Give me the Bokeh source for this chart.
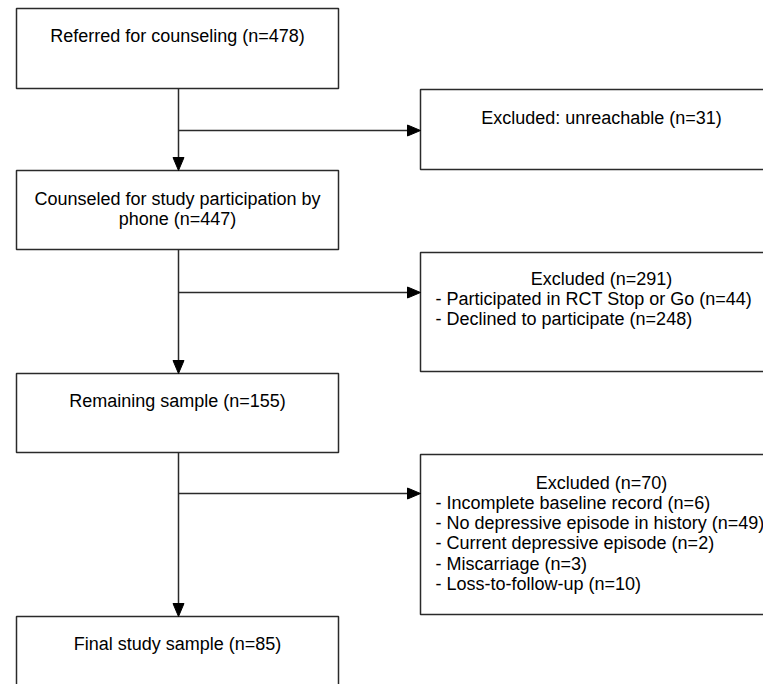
from bokeh.plotting import figure
from bokeh.models import Range1d
from bokeh.core.properties import value
from bokeh.embed import file_html
from bokeh.resources import INLINE

# ---- content ----
main_labels = [
    ["Referred for counseling (n=478)"],
    ["Counseled for study participation by", "phone (n=447)"],
    ["Remaining sample (n=155)"],
    ["Final study sample (n=85)"],
]
excl_titles = [
    "Excluded: unreachable (n=31)",
    "Excluded (n=291)",
    "Excluded (n=70)",
]
excl_items = [
    [],
    ["- Participated in RCT Stop or Go (n=44)",
     "- Declined to participate (n=248)"],
    ["- Incomplete baseline record (n=6)",
     "- No depressive episode in history (n=49)",
     "- Current depressive episode (n=2)",
     "- Miscarriage (n=3)",
     "- Loss-to-follow-up (n=10)"],
]

# ---- layout (pixel coordinates) ----
main_left, main_right = 16, 338
main_top = [8, 170, 373, 616]
main_bot = [88, 249, 452, 720]
main_text_y = [35, 198, 400, 643]
stem_x = 178

ex_left, ex_right = 420, 782
ex_top = [89, 252, 454]
ex_bot = [169, 371, 614]
ex_title_y = [117, 278, 482]
branch_y = [130, 292, 493]
item_x = 435
line_gap = 20.3

FONT = "Liberation Sans"
FS = "18px"
LC = "#2a2a2a"

p = figure(width=763, height=684, x_range=Range1d(0, 763), y_range=Range1d(684, 0),
           output_backend="svg", toolbar_location=None, min_border=0)
p.axis.visible = False
p.grid.visible = False
p.outline_line_color = None
p.background_fill_color = "white"
p.border_fill_color = "white"

# boxes
p.quad(left=[main_left] * 4, right=[main_right] * 4, top=main_top, bottom=main_bot,
       fill_color="white", line_color=LC, line_width=1.5)
p.quad(left=[ex_left] * 3, right=[ex_right] * 3, top=ex_top, bottom=ex_bot,
       fill_color="white", line_color=LC, line_width=1.5)

# vertical stems
ah = 13  # arrow head length
aw = 5.5  # half width
p.segment(x0=[stem_x] * 3, y0=main_bot[:3], x1=[stem_x] * 3,
          y1=[t - ah + 1 for t in main_top[1:]], line_color=LC, line_width=1.5)
# branches
p.segment(x0=[stem_x] * 3, y0=branch_y, x1=[ex_left - ah + 1] * 3, y1=branch_y,
          line_color=LC, line_width=1.5)

# arrowheads
xs, ys = [], []
for t in main_top[1:]:
    xs.append([stem_x - aw, stem_x + aw, stem_x])
    ys.append([t - ah, t - ah, t])
for b in branch_y:
    xs.append([ex_left - ah, ex_left - ah, ex_left])
    ys.append([b - aw, b + aw, b])
p.patches(xs, ys, fill_color="black", line_color="black", line_width=1)

# main texts
tx, ty, tt = [], [], []
for lines, y0 in zip(main_labels, main_text_y):
    for i, s in enumerate(lines):
        tx.append((main_left + main_right) / 2)
        ty.append(y0 + i * line_gap)
        tt.append(s)
p.text(x=tx, y=ty, text=tt, text_align="center", text_baseline="middle",
       text_font=value(FONT), text_font_size=FS, text_color="black")

# exclusion titles
p.text(x=[601] * 3, y=ex_title_y, text=excl_titles, text_align="center",
       text_baseline="middle", text_font=value(FONT), text_font_size=FS,
       text_color="black")

# exclusion items
ix, iy, it = [], [], []
for items, y0 in zip(excl_items, ex_title_y):
    for i, s in enumerate(items):
        ix.append(item_x)
        iy.append(y0 + (i + 1) * line_gap)
        it.append(s)
p.text(x=ix, y=iy, text=it, text_align="left", text_baseline="middle",
       text_font=value(FONT), text_font_size=FS, text_color="black")

open("out.html", "w").write(file_html(p, INLINE))
